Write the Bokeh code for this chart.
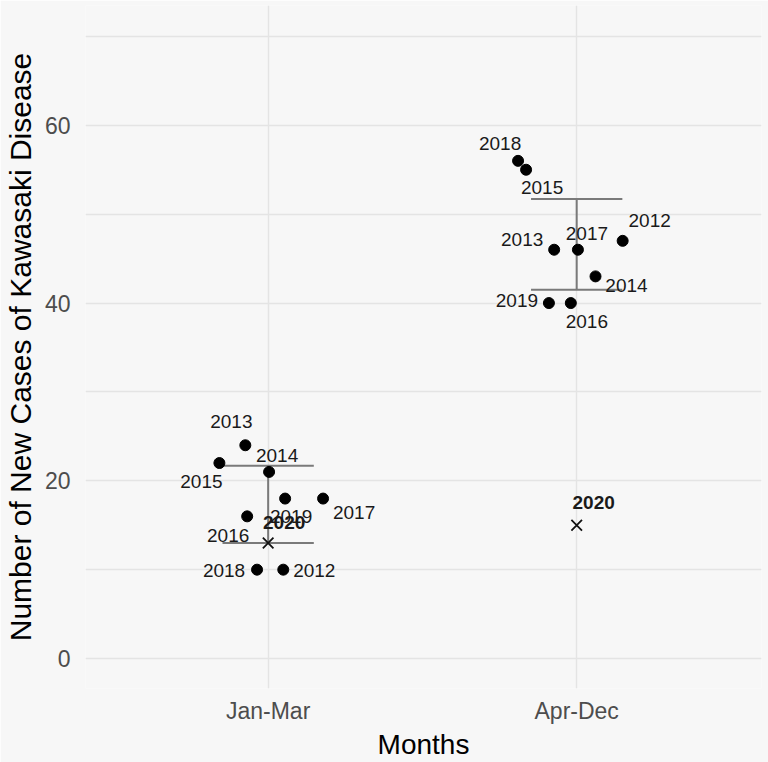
from bokeh.plotting import figure
from bokeh.models import ColumnDataSource, FixedTicker, Range1d
from bokeh.core.properties import value
from bokeh.embed import file_html
from bokeh.resources import INLINE

# ---- data ----
groups = ["Jan-Mar", "Apr-Dec"]
group_pos = [1, 2]
years = ["2012", "2013", "2014", "2015", "2016", "2017", "2018", "2019", "2020"]
jan_cases = [10, 24, 21, 22, 16, 18, 10, 18, 13]
apr_cases = [47, 46, 43, 55, 40, 46, 56, 40, 15]
jan_jitter = [0.049, -0.074, 0.003, -0.158, -0.068, 0.178, -0.036, 0.055, 0.0]
apr_jitter = [0.149, -0.073, 0.061, -0.164, -0.019, 0.004, -0.190, -0.090, 0.0]
ci_lower = [13.0, 41.5]
ci_upper = [21.7, 51.7]
y_ticks = [0, 20, 40, 60]
y_minor = [10, 30, 50, 70]

# ---- label offsets (screen px, repel-style placement) ----
jan_dx = [31, -14, 8, -18, -19, 31, -33, 6, 16]
jan_dy = [1, -24, -16, 18, 19, 14, 1, 18, -21]
apr_dx = [27, -32, 31, 16, 16, 9, -18, -32, 17]
apr_dy = [-20, -10, 9, 18, 18, -16, -17, -3, -23]

FONT = "Liberation Sans"
BG = "#F7F7F7"
GRID = "#E4E4E4"
CAP = 0.148

p = figure(width=768, height=762, output_backend="svg", toolbar_location=None,
           x_range=Range1d(0.408, 2.599), y_range=Range1d(-3.37, 73.48),
           min_border_left=84, min_border_right=7, min_border_top=5, min_border_bottom=72)
p.background_fill_color = BG
p.border_fill_color = BG
p.outline_line_color = None

# axes
p.xaxis.ticker = FixedTicker(ticks=group_pos)
p.xaxis.major_label_overrides = {pos: g for pos, g in zip(group_pos, groups)}
p.yaxis.ticker = FixedTicker(ticks=y_ticks, minor_ticks=y_minor)
for ax in (p.xaxis, p.yaxis):
    ax.axis_line_color = None
    ax.major_tick_line_color = None
    ax.minor_tick_line_color = None
    ax.major_label_text_font = FONT
    ax.major_label_text_font_size = "23px"
    ax.major_label_text_color = "#4D4D4D"
    ax.axis_label_text_font = FONT
    ax.axis_label_text_font_style = "normal"
    ax.axis_label_text_color = "#000000"
p.xaxis.axis_label_text_font_size = "28px"
p.yaxis.axis_label_text_font_size = "30px"
p.xaxis.axis_label = "Months"
p.yaxis.axis_label = "Number of New Cases of Kawasaki Disease"
p.xaxis.major_label_standoff = 3
p.xaxis.axis_label_standoff = 2
p.yaxis.major_label_standoff = 9
p.yaxis.axis_label_standoff = 5

p.xgrid.grid_line_color = GRID
p.xgrid.grid_line_width = 1.5
p.ygrid.grid_line_color = GRID
p.ygrid.grid_line_width = 1.5
p.ygrid.minor_grid_line_color = GRID
p.ygrid.minor_grid_line_width = 1.5

# error bars
eb = ColumnDataSource(dict(x=group_pos, lo=ci_lower, hi=ci_upper,
                           xl=[g - CAP for g in group_pos], xr=[g + CAP for g in group_pos]))
ebc = "#7A7A7A"
p.segment(x0="x", y0="lo", x1="x", y1="hi", source=eb, line_color=ebc, line_width=2)
p.segment(x0="xl", y0="lo", x1="xr", y1="lo", source=eb, line_color=ebc, line_width=2)
p.segment(x0="xl", y0="hi", x1="xr", y1="hi", source=eb, line_color=ebc, line_width=2)

# points and labels
for pos, cases, jit, dxs, dys in ((1, jan_cases, jan_jitter, jan_dx, jan_dy),
                                  (2, apr_cases, apr_jitter, apr_dx, apr_dy)):
    xs = [pos + j for j in jit]
    pts = ColumnDataSource(dict(x=xs[:-1], y=cases[:-1], t=years[:-1], dx=dxs[:-1], dy=dys[:-1]))
    cur = ColumnDataSource(dict(x=xs[-1:], y=cases[-1:], t=years[-1:], dx=dxs[-1:], dy=dys[-1:]))
    p.scatter(x="x", y="y", source=pts, size=11, color="black")
    p.scatter(x="x", y="y", source=cur, marker="x", size=15, line_color="#111111", line_width=1.8)
    p.text(x="x", y="y", text="t", source=pts, x_offset="dx", y_offset="dy",
           text_align="center", text_baseline="middle", text_font=value(FONT),
           text_font_size="19px", text_color="#1A1A1A")
    p.text(x="x", y="y", text="t", source=cur, x_offset="dx", y_offset="dy",
           text_align="center", text_baseline="middle", text_font=value(FONT),
           text_font_size="19px", text_font_style="bold", text_color="#1A1A1A")

open("out.html", "w").write(file_html(p, INLINE))
